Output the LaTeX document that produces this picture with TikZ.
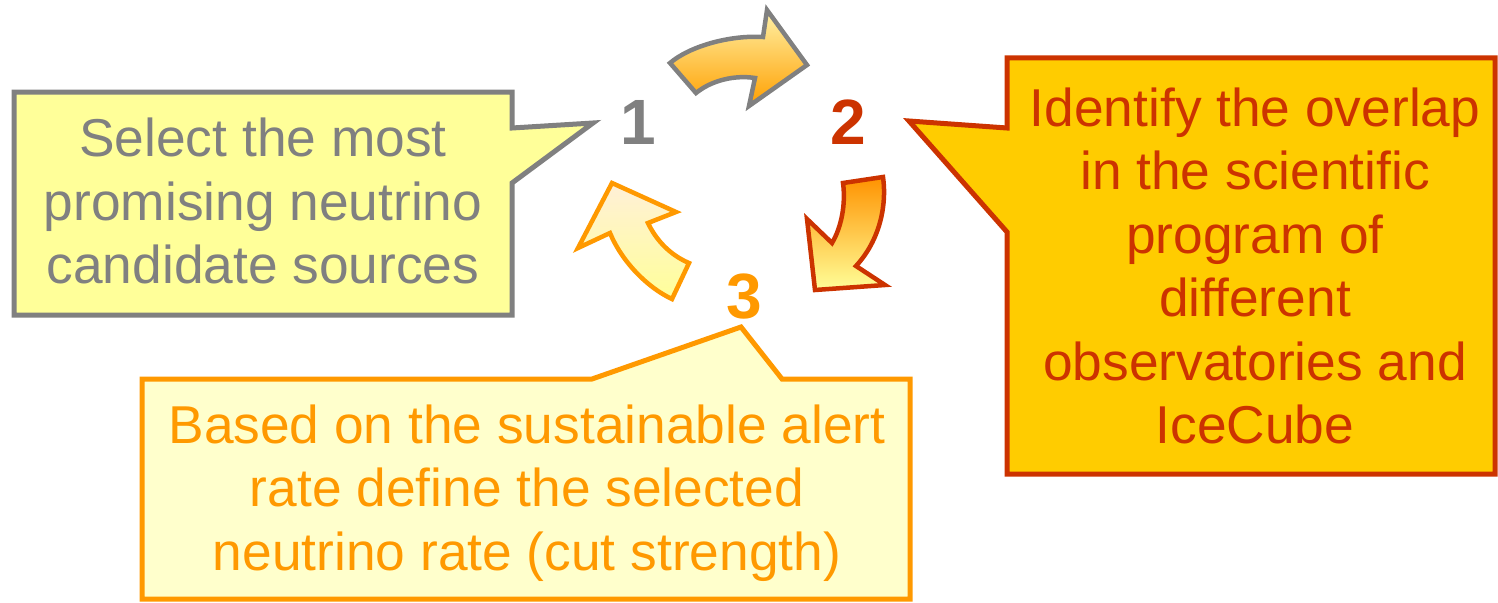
\documentclass[tikz,border=0pt]{standalone}
\usepackage{fontspec}
\setmainfont{Liberation Sans}
\definecolor{cgray}{HTML}{808080}
\definecolor{cred}{HTML}{CC3300}
\definecolor{corange}{HTML}{FF9900}
\definecolor{fillA}{HTML}{FFFF99}
\definecolor{fillB}{HTML}{FFCC00}
\definecolor{fillC}{HTML}{FFFFCC}
\tikzset{
  calloutbox/.style={line width=5pt, line join=miter},
  calltext/.style={align=center, font=\fontsize{53.3}{63.5}\selectfont, inner sep=0pt},
  numlabel/.style={font=\fontsize{64}{70}\selectfont\bfseries, inner sep=0pt},
  blockarrow/.style={line width=4.5pt, line join=miter},
}
\begin{document}
\begin{tikzpicture}[x=1pt,y=-1pt]
\useasboundingbox (0,0) rectangle (1498,602);
% callout 1
\draw[calloutbox, draw=cgray, fill=fillA]
  (14,92) -- (512,92) -- (512,128) -- (593,123) -- (512,183) -- (512,315) -- (14,315) -- cycle;
\node[calltext, text=cgray] (t1) at (263,201) {Select the most\\promising neutrino\\candidate sources};
% callout 2
\draw[calloutbox, draw=cred, fill=fillB]
  (1007,58) -- (1495,58) -- (1495,474) -- (1007,474) -- (1007,232) -- (909,121) -- (1007,128) -- cycle;
\node[calltext, text=cred] (t2) at (1255,266) {Identify the overlap\\in the scientific\\program of\\different\\observatories and\\IceCube};
% callout 3
\draw[calloutbox, draw=corange, fill=fillC]
  (142,379) -- (592,379) -- (741,327) -- (782,379) -- (910,379) -- (910,599) -- (142,599) -- cycle;
\node[calltext, text=corange] (t3) at (527,493) {Based on the sustainable alert\\rate define the selected\\neutrino rate (cut strength)};
% numbers
\node[numlabel, text=cgray] (n1) at (638,122) {1};
\node[numlabel, text=cred] (n2) at (848,122) {2};
\node[numlabel, text=corange] (n3) at (744,297) {3};
% arrow 1 -> 2
\shadedraw[blockarrow, draw=cgray, top color=fillA!85!orange!70, bottom color=orange!75!yellow]
  (670,63) .. controls (690,46) and (730,35) .. (763,37)
  -- (767,10) -- (807,65) -- (749,106) -- (755,78)
  .. controls (735,75) and (712,80) .. (696,93) -- cycle;
% arrow 2 -> 3
\shadedraw[blockarrow, draw=cred, top color=orange!85!yellow, bottom color=fillA]
  (843,183) -- (883,177)
  .. controls (887,205) and (880,240) .. (856,266)
  -- (885,285) -- (815,290) -- (807,219) -- (832,243)
  .. controls (841,228) and (846,205) .. cycle;
% arrow 3 -> 1
\shadedraw[blockarrow, draw=corange, top color=fillC!60!orange!30, bottom color=fillA]
  (689,263) -- (672,299)
  .. controls (648,288) and (622,262) .. (610,233)
  -- (578,248) -- (612,183) -- (676,212) -- (648,223)
  .. controls (656,240) and (670,255) .. cycle;
\end{tikzpicture}
\end{document}
